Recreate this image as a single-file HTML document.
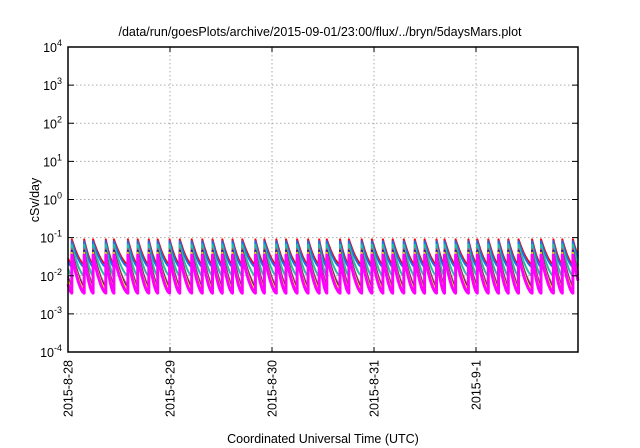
<!DOCTYPE html>
<html><head><meta charset="utf-8"><style>
body{margin:0;background:#fff}
svg{display:block;font-family:"Liberation Sans",sans-serif}
</style></head><body>
<svg id="c" width="640" height="448" viewBox="0 0 640 448">
<rect width="640" height="448" fill="#fff"/>
<text x="320" y="36" font-size="12.5" text-anchor="middle">/data/run/goesPlots/archive/2015-09-01/23:00/flux/../bryn/5daysMars.plot</text>
<g id="grid"></g>
<g id="series"></g>
<g id="axes"></g>
<text x="0" y="0" font-size="12.5" text-anchor="middle" transform="translate(39,200) rotate(-90)">cSv/day</text>
<text x="323" y="443" font-size="12.5" text-anchor="middle">Coordinated Universal Time (UTC)</text>
</svg>
<script>
const xTickLabels=["2015-8-28","2015-8-29","2015-8-30","2015-8-31","2015-9-1"];
const yTickExps=[-4,-3,-2,-1,0,1,2,3,4];
const peakHours=[0.9,3.8,5.9,8.9,10.8,14.1,16.4,19.0,21.1,23.9,26.3,29.1,31.6,34.0,36.3,38.7,41.0,44.1,46.2,49.0,51.3,53.9,56.5,59.1,60.9,64.0,66.1,69.1,71.5,74.1,76.4,79.0,81.6,83.9,86.7,88.6,91.2,94.2,96.3,98.9,101.3,103.6,106.0,109.2,111.3,114.2,116.3,118.8];
const seriesNames=["red","blue","teal","brown","purple","yellow","magenta"];
const seriesColors=["#ff0000","#1e6ee6","#20c0a0","#b05070","#401090","#ffe000","#ff00ff"];
const seriesPeak=[0.09,0.08,0.065,0.05,0.045,0.04,0.035];
const seriesTrough=[0.02,0.017,0.01,0.0058,0.005,0.0045,0.0035];
const seriesWidth=[2,2,2,2,2,2,3];
const NS="http://www.w3.org/2000/svg";
const L=68,R=578,T=47,B=352,H0=0,H1=120;
const x=h=>L+(h-H0)/(H1-H0)*(R-L);
const y=v=>B-(Math.log10(v)+4)/8*(B-T);
function mk(t,a,p){const e=document.createElementNS(NS,t);for(const k in a)e.setAttribute(k,a[k]);p.appendChild(e);return e;}
const grid=document.getElementById('grid'),axes=document.getElementById('axes'),ser=document.getElementById('series');
xTickLabels.forEach((lab,i)=>{
 const xx=x(i*24);
 if(i>0){const g=mk('line',{x1:xx,x2:xx,y1:T,y2:B,stroke:'#aaa','stroke-dasharray':'1.5,2.5','stroke-width':1},grid);
 
 }
 const t=mk('text',{x:0,y:0,'font-size':12.5,'text-anchor':'end',transform:`translate(${xx+4.5},360) rotate(-90)`},axes);
 t.textContent=lab;
 
 
 mk('line',{x1:xx,x2:xx,y1:B,y2:B-5,stroke:'#000'},axes);
 mk('line',{x1:xx,x2:xx,y1:T,y2:T+5,stroke:'#000'},axes);
});
yTickExps.forEach(e=>{
 const yy=y(Math.pow(10,e));
 if(e>-4&&e<4){const g=mk('line',{x1:L,x2:R,y1:yy,y2:yy,stroke:'#aaa','stroke-dasharray':'1.5,2.5','stroke-width':1},grid);
 
 }
 mk('line',{x1:L,x2:L+6,y1:yy,y2:yy,stroke:'#000'},axes);
 mk('line',{x1:R,x2:R-6,y1:yy,y2:yy,stroke:'#000'},axes);
 const t=mk('text',{x:L-6,y:yy+5,'font-size':12.5,'text-anchor':'end'},axes);
 t.innerHTML='10<tspan dy="-6" font-size="9">'+e+'</tspan>';
 
 
});
const fr=mk('rect',{x:L,y:T,width:R-L,height:B-T,fill:'none',stroke:'#000','stroke-width':1.5},axes);


seriesNames.forEach((n,s)=>{
 const lp=Math.log10(seriesPeak[s]),lt=Math.log10(seriesTrough[s]);
 const val=f=>Math.pow(10,lt+(lp-lt)*Math.pow(Math.max(0,1-f),1.6));
 let d='';
 const p0=peakHours[0];
 for(let k=0;k<=4;k++){const h=p0*k/4;d+=(k?'L':'M')+x(h).toFixed(1)+','+y(val(0.6+0.4*k/4)).toFixed(1);}
 for(let i=0;i<peakHours.length;i++){
  const a=peakHours[i],b=i+1<peakHours.length?peakHours[i+1]:H1;
  const full=(i+1<peakHours.length)?1:(b-a)/2.4;
  for(let k=0;k<=10;k++){const f=k/10;d+='L'+x(a+(b-a)*f).toFixed(1)+','+y(val(f*full)).toFixed(1);}
 }
 const p=mk('path',{d:d,fill:'none',stroke:seriesColors[s],'stroke-width':seriesWidth[s],'stroke-linejoin':'round'},ser);
 
 
});
</script>
</body></html>
